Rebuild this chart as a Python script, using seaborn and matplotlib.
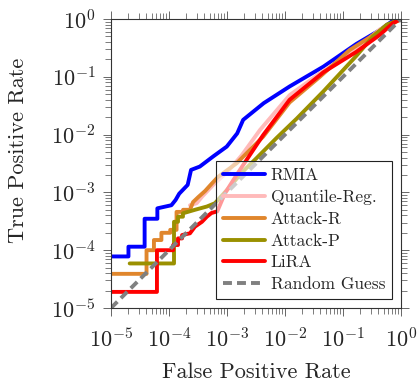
import numpy as np
import pandas as pd
import seaborn as sns
import matplotlib.pyplot as plt
from matplotlib.ticker import LogLocator, NullFormatter

# ROC curves (FPR, TPR)
rmia_fpr = [1.0e-5, 2.0e-5, 2.0e-5, 3.8e-5, 3.8e-5, 6.3e-5, 6.3e-5, 1.1e-4, 1.3e-4, 1.5e-4,
            2.1e-4, 2.4e-4, 3.4e-4, 5.8e-4, 9.9e-4, 1.5e-3, 1.9e-3, 4.3e-3, 1.2e-2, 4.6e-2,
            0.17, 0.44, 0.72, 1.0]
rmia_tpr = [7.8e-5, 7.8e-5, 1.15e-4, 1.15e-4, 3.5e-4, 3.5e-4, 5.3e-4, 6.0e-4, 7.4e-4, 9.5e-4,
            1.35e-3, 2.45e-3, 2.8e-3, 4.2e-3, 6.2e-3, 1.05e-2, 1.8e-2, 3.5e-2, 6.8e-2, 0.15,
            0.37, 0.65, 0.93, 1.0]

qreg_fpr = [2.3e-4, 3.0e-4, 3.7e-4, 6.2e-4, 1.04e-3, 1.8e-3, 3.7e-3, 1.2e-2, 4.0e-2, 0.17, 0.43, 1.0]
qreg_tpr = [6.0e-4, 6.5e-4, 8.4e-4, 1.45e-3, 2.3e-3, 4.4e-3, 1.2e-2, 4.8e-2, 0.115, 0.30, 0.66, 1.0]

attr_fpr = [1.0e-5, 4.1e-5, 4.1e-5, 5.5e-5, 5.5e-5, 7.4e-5, 7.4e-5, 1.05e-4, 1.05e-4, 1.35e-4,
            1.35e-4, 1.75e-4, 1.75e-4, 2.3e-4, 2.6e-4, 3.2e-4, 4.2e-4, 5.4e-4, 7.0e-4, 1.47e-3,
            4.2e-3, 1.2e-2, 4.0e-2, 0.13, 0.43, 1.0]
attr_tpr = [3.9e-5, 3.9e-5, 1.0e-4, 1.0e-4, 1.5e-4, 1.5e-4, 2.0e-4, 2.0e-4, 2.25e-4, 2.25e-4,
            4.6e-4, 4.6e-4, 5.0e-4, 5.0e-4, 6.8e-4, 8.3e-4, 1.06e-3, 1.4e-3, 1.85e-3, 3.2e-3,
            9.2e-3, 3.6e-2, 0.10, 0.29, 0.62, 1.0]

attp_fpr = [2.1e-5, 1.22e-4, 1.22e-4, 1.43e-4, 1.43e-4, 1.74e-4, 1.74e-4, 2.8e-4, 4.5e-4, 6.2e-4,
            1.04e-3, 1.8e-3, 3.3e-3, 7.2e-3, 1.6e-2, 4.6e-2, 0.17, 0.33, 0.57, 1.0]
attp_tpr = [5.9e-5, 5.9e-5, 3.1e-4, 3.1e-4, 3.8e-4, 3.8e-4, 4.35e-4, 5.0e-4, 5.7e-4, 6.5e-4,
            1.15e-3, 2.2e-3, 4.0e-3, 8.8e-3, 1.9e-2, 5.6e-2, 0.23, 0.50, 0.80, 1.0]

lira_fpr = [1.0e-5, 6.2e-5, 6.2e-5, 1.18e-4, 1.18e-4, 1.43e-4, 1.43e-4, 1.68e-4, 1.68e-4, 2.3e-4,
            2.8e-4, 3.7e-4, 4.5e-4, 5.4e-4, 6.8e-4, 9.2e-4, 1.27e-3, 1.67e-3, 4.2e-3, 1.2e-2,
            4.6e-2, 0.17, 0.43, 0.73, 1.0]
lira_tpr = [1.9e-5, 1.9e-5, 1.0e-4, 1.0e-4, 1.23e-4, 1.23e-4, 1.6e-4, 1.6e-4, 1.83e-4, 1.96e-4,
            2.55e-4, 3.1e-4, 3.8e-4, 4.4e-4, 4.7e-4, 9.6e-4, 1.6e-3, 2.45e-3, 9.8e-3, 4.0e-2,
            0.12, 0.27, 0.53, 0.85, 1.0]

rand_fpr = [1.0e-5, 1.0]
rand_tpr = [1.0e-5, 1.0]

methods = ["RMIA", "Quantile-Reg.", "Attack-R", "Attack-P", "LiRA", "Random Guess"]
curves = [(rmia_fpr, rmia_tpr), (qreg_fpr, qreg_tpr), (attr_fpr, attr_tpr),
          (attp_fpr, attp_tpr), (lira_fpr, lira_tpr), (rand_fpr, rand_tpr)]

frames = []
for name, (f, t) in zip(methods, curves):
    frames.append(pd.DataFrame({"fpr": f, "tpr": t, "method": name}))
df = pd.concat(frames, ignore_index=True)

palette = {"RMIA": "#0000ff", "Quantile-Reg.": "#ffbaba", "Attack-R": "#e0862c",
           "Attack-P": "#9a9000", "LiRA": "#ff0000", "Random Guess": "#808080"}
dashes = {m: "" for m in methods}
dashes["Random Guess"] = (2.3, 1.3)

sns.set_style("ticks")
plt.rcParams["font.family"] = "cmr10"
plt.rcParams["mathtext.fontset"] = "cm"
plt.rcParams["axes.formatter.use_mathtext"] = True

fig = plt.figure(figsize=(4.19, 3.83), dpi=100)
ax = fig.add_axes([0.2649, 0.1958, 0.6921, 0.7546])

sns.lineplot(data=df, x="fpr", y="tpr", hue="method", style="method",
             palette=palette, dashes=dashes, hue_order=methods, style_order=methods,
             sort=False, estimator=None, linewidth=2.8, ax=ax)

ax.set_xscale("log")
ax.set_yscale("log")
ax.set_xlim(1e-5, 1)
ax.set_ylim(1e-5, 1)

for axis in (ax.xaxis, ax.yaxis):
    axis.set_major_locator(LogLocator(base=10, numticks=10))
    axis.set_minor_locator(LogLocator(base=10, subs=np.arange(2, 10), numticks=100))
    axis.set_minor_formatter(NullFormatter())

ax.tick_params(which="both", direction="out", top=True, right=True, color="#666666")
ax.tick_params(which="major", length=6, width=0.7, labelsize=16)
ax.tick_params(which="minor", length=4, width=0.6)
ax.tick_params(axis="x", which="major", pad=8)
ax.tick_params(axis="y", which="major", pad=5)
for s in ax.spines.values():
    s.set_color("#333333")
    s.set_linewidth(0.8)

ax.set_xlabel("False Positive Rate", fontsize=16)
ax.set_ylabel("True Positive Rate", fontsize=16)
ax.xaxis.set_label_coords(0.5, -0.19)
ax.yaxis.set_label_coords(-0.285, 0.547)

handles, labels = ax.get_legend_handles_labels()
leg = ax.legend(handles, labels, loc="lower right", bbox_to_anchor=(0.969, 0.031),
                borderaxespad=0, fontsize=12.5, fancybox=False, handlelength=2.45,
                handletextpad=0.3, labelspacing=0.37, borderpad=0.4)
for h in leg.get_lines():
    h.set_linewidth(2.8)
frame = leg.get_frame()
frame.set_alpha(None)
frame.set_facecolor((1, 1, 1, 0.6))
frame.set_edgecolor("#222222")
frame.set_linewidth(0.8)

fig.savefig("out.png", dpi=100)
